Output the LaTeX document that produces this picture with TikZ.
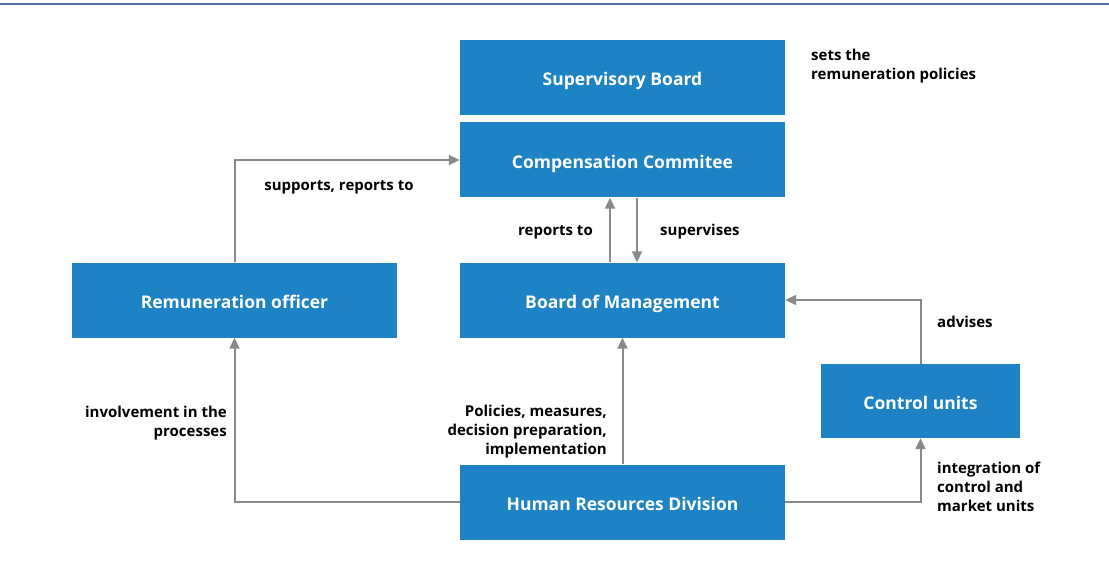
\documentclass[tikz,border=0pt]{standalone}
\usepackage{fontspec}
\setmainfont{Open Sans}
\usepackage{xcolor}
\usetikzlibrary{arrows.meta}
\definecolor{boxblue}{RGB}{29,131,197}
\definecolor{linkgray}{RGB}{137,137,137}
\definecolor{rulesteel}{RGB}{84,104,152}

\tikzset{
  orgbox/.style={fill=boxblue, text=white, minimum width=325pt, minimum height=75pt,
    inner sep=0pt, text height=16pt, text depth=0pt,
    font=\bfseries\fontsize{17.5}{20}\selectfont},
  link/.style={linkgray, line width=2pt, -{Triangle[length=11pt,width=10pt]}},
  note/.style={font=\bfseries\fontsize{15}{19}\selectfont, inner sep=0pt}
}

\begin{document}
\begin{tikzpicture}[x=1pt, y=1pt]
    \useasboundingbox (0,0) rectangle (1109,-575);
    % rule along the top
    \draw[rulesteel, line width=2pt] (0,-4.5) -- (1109,-4.5);

    % boxes
    \node[orgbox] (sup) at (622.5,-77.5) {Supervisory Board};
    \node[orgbox] (comp) at (622.5,-160) {Compensation Commitee};
    \node[orgbox] (bom) at (622.5,-300) {Board of Management};
    \node[orgbox] (rem) at (234.5,-300) {Remuneration officer};
    \node[orgbox, minimum width=199pt, minimum height=74pt] (ctl) at (920.5,-401) {Control units};
    \node[orgbox] (hr) at (622.5,-502) {Human Resources Division};

    % connectors
    \draw[link] (rem.north) |- (comp.west);
    \draw[link] ([xshift=-12.5pt]bom.north) -- ([xshift=-12.5pt]comp.south);
    \draw[link] ([xshift=14.5pt]comp.south) -- ([xshift=14.5pt]bom.north);
    \draw[link] (ctl.north) |- (bom.east);
    \draw[link] (hr.east) -| (ctl.south);
    \draw[link] (hr.north) -- (bom.south);
    \draw[link] (hr.west) -| (rem.south);

    % labels
    \node[note, anchor=west, align=left] (setsl) at (811,-66) {sets the\\remuneration policies};
    \node[note] (suppl) at (339,-187) {supports, reports to};
    \node[note, anchor=east] (repl) at (593,-232) {reports to};
    \node[note, anchor=west] (supl) at (660,-232) {supervises};
    \node[note, anchor=west] (advl) at (937,-322) {advises};
    \node[note, anchor=east, align=right] (invl) at (227,-423) {involvement in the\\processes};
    \node[note, anchor=east, align=right] (poll) at (607,-432) {Policies, measures,\\decision preparation,\\implementation};
    \node[note, anchor=west, align=left] (intl) at (937,-487) {integration of\\control and\\market units};
\end{tikzpicture}
\end{document}
